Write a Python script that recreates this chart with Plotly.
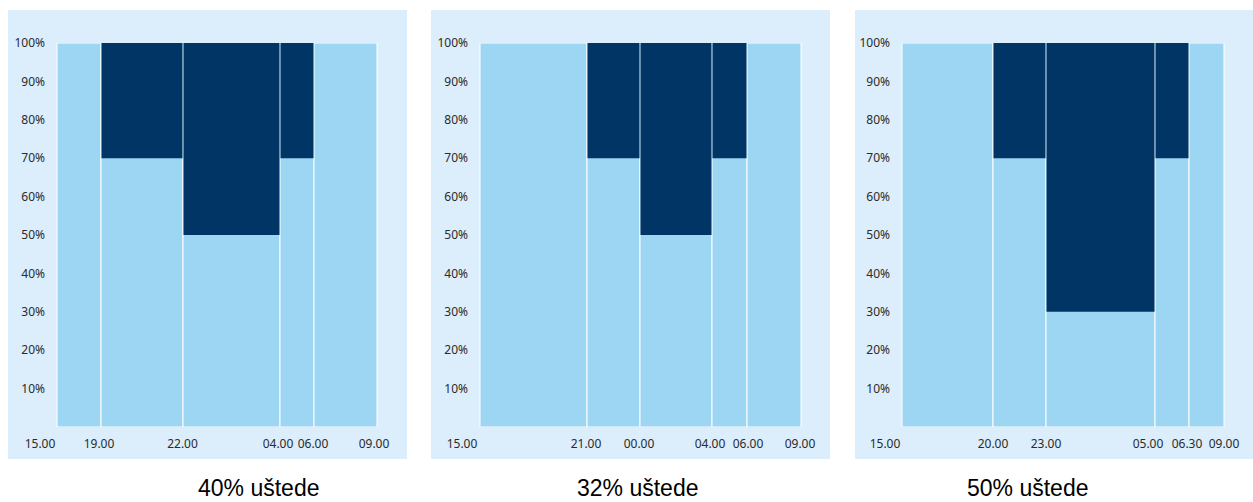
import plotly.graph_objects as go

W, H = 1253, 502

# ---- data (segment widths in chart units, shares in %) ----
titles = ["40% uštede", "32% uštede", "50% uštede"]

widths_1 = [44, 82, 97, 34, 63]
light_1 = [100, 70, 50, 70, 100]
dark_1 = [0, 30, 50, 30, 0]
ticks_1 = ["15.00", "19.00", "22.00", "04.00", "06.00", "09.00"]
tickpos_1 = [-17, 42, 125.5, 221, 256, 317]

widths_2 = [107, 53, 72, 35, 54]
light_2 = [100, 70, 50, 70, 100]
dark_2 = [0, 30, 50, 30, 0]
ticks_2 = ["15.00", "21.00", "00.00", "04.00", "06.00", "09.00"]
tickpos_2 = [-18, 106, 159, 230, 268, 320]

widths_3 = [91, 53, 109, 34, 35]
light_3 = [100, 70, 30, 70, 100]
dark_3 = [0, 30, 70, 30, 0]
ticks_3 = ["15.00", "20.00", "23.00", "05.00", "06.30", "09.00"]
tickpos_3 = [-17, 91, 144, 246, 285, 322]

y_ticks = [10, 20, 30, 40, 50, 60, 70, 80, 90, 100]
y_labels = [f"{v}%" for v in y_ticks]

# ---- style / layout ----
LIGHT = "#9dd6f2"
DARK = "#003565"
BOX = "#dceefc"
TXT = "#2b2b2b"

plot_left = [57, 480, 902]
box_x = [(8, 407), (431, 830), (855, 1253)]
title_x = [258, 637, 1027]
plot_top, plot_bottom = 43, 427

panels = [
    (widths_1, light_1, dark_1, ticks_1, tickpos_1),
    (widths_2, light_2, dark_2, ticks_2, tickpos_2),
    (widths_3, light_3, dark_3, ticks_3, tickpos_3),
]

fig = go.Figure()
layout = dict(
    width=W, height=H, margin=dict(l=0, r=0, t=0, b=0, pad=0),
    paper_bgcolor="white", plot_bgcolor="rgba(0,0,0,0)",
    barmode="overlay", showlegend=False, shapes=[], annotations=[],
    font=dict(family="Noto Sans", size=12, color=TXT),
)

for i, (widths, light, dark, ticks, tickpos) in enumerate(panels):
    n = i + 1
    xa = "x" if n == 1 else f"x{n}"
    ya = "y" if n == 1 else f"y{n}"
    lefts = [sum(widths[:k]) for k in range(len(widths))]
    centers = [l + w / 2 for l, w in zip(lefts, widths)]
    total = [a + b for a, b in zip(light, dark)]
    fig.add_trace(go.Bar(
        x=centers, y=total, width=widths, xaxis=xa, yaxis=ya,
        marker=dict(color=LIGHT, line=dict(color="white", width=1)),
        hoverinfo="skip"))
    fig.add_trace(go.Bar(
        x=centers, y=dark, base=light, width=[w - 1 for w in widths],
        xaxis=xa, yaxis=ya,
        marker=dict(color=DARK, line=dict(width=0)),
        hoverinfo="skip"))

    r0, r1 = -40, 330
    L = plot_left[i]
    dom = [(L + r0) / W, min((L + r1) / W, 1.0)]
    r1e = dom[1] * W - L
    ax_x = dict(domain=dom, range=[r0, r1e], tickvals=tickpos, ticktext=ticks,
                showgrid=False, zeroline=False, showline=False, ticks="",
                ticklabelstandoff=8, tickfont=dict(size=12, color=TXT),
                anchor=ya, automargin=False, fixedrange=True)
    ax_y = dict(domain=[1 - plot_bottom / H, 1 - plot_top / H], range=[0, 100],
                tickvals=y_ticks, ticktext=y_labels, showgrid=False,
                zeroline=False, showline=False, ticks="",
                ticklabelstandoff=12, tickfont=dict(size=12, color=TXT),
                anchor="free", position=L / W, automargin=False,
                fixedrange=True)
    layout["xaxis" if n == 1 else f"xaxis{n}"] = ax_x
    layout["yaxis" if n == 1 else f"yaxis{n}"] = ax_y

    bx0, bx1 = box_x[i]
    layout["shapes"].append(dict(
        type="rect", xref="paper", yref="paper", layer="below",
        x0=bx0 / W, x1=bx1 / W, y0=1 - 459 / H, y1=1 - 10 / H,
        fillcolor=BOX, line=dict(width=0)))
    layout["annotations"].append(dict(
        text=titles[i], xref="paper", yref="paper", x=title_x[i] / W,
        y=0, xanchor="center", yanchor="bottom", showarrow=False,
        borderpad=0,
        font=dict(family="Liberation Sans, Arial", size=23, color="black")))

fig.update_layout(**layout)
fig.write_html("out.html", config={"displayModeBar": False})
